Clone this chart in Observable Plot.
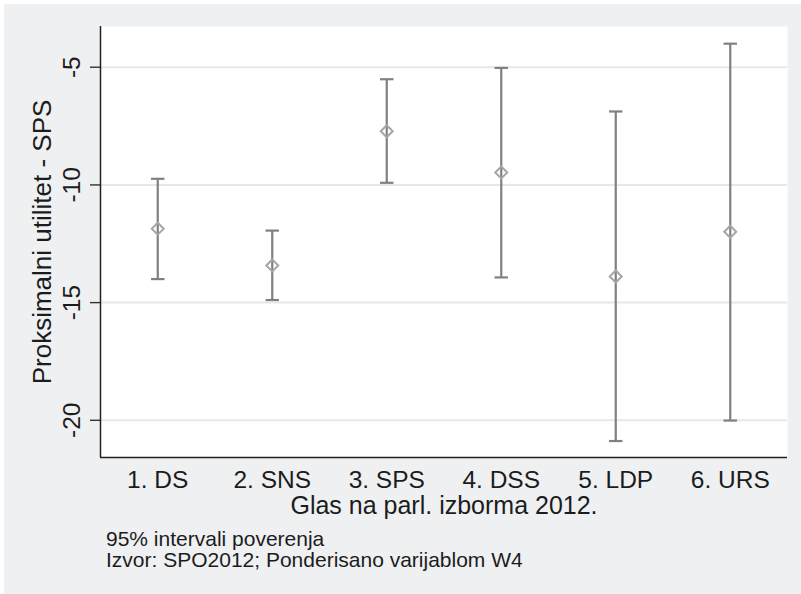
<!DOCTYPE html>
<html><head><meta charset="utf-8">
<script src="https://cdn.jsdelivr.net/npm/d3@7"></script>
<script src="https://cdn.jsdelivr.net/npm/@observablehq/plot@0.6"></script>
<style>
body{margin:0;background:#fff;}
#fig{position:absolute;left:4px;top:4px;width:797px;height:590px;background:#eff0f2;font-family:"Liberation Sans",Arial,Helvetica,sans-serif;color:#1c1c1c;}
#fig svg{display:block;}
#notes{margin-left:102px;margin-top:3px;font-size:21px;line-height:20.7px;color:#1c1c1c;}
</style></head><body><div id="fig"></div>
<script>
const parties = ["1. DS","2. SNS","3. SPS","4. DSS","5. LDP","6. URS"];
const means = [-11.86,-13.42,-7.72,-9.47,-13.89,-11.99];
const lower = [-14.00,-14.89,-9.91,-13.93,-20.88,-20.01];
const upper = [-9.74,-11.94,-5.51,-5.03,-6.88,-4.00];
const yTicks = [-20,-15,-10,-5];
const xDomain = [0.5,6.5];
const yDomain = [-21.58,-3.27];
const yTitle = "Proksimalni utilitet - SPS";
const xTitle = "Glas na parl. izborma 2012.";
const notes = ["95% intervali poverenja","Izvor: SPO2012; Ponderisano varijablom W4"];

const data = parties.map((p,i)=>({i:i+1, party:p, mean:means[i], lo:lower[i], hi:upper[i]}));
const xs = data.map(d=>d.i);

const capSymbol = {draw(ctx, size){const w=Math.sqrt(size/Math.PI); ctx.moveTo(-w,0); ctx.lineTo(w,0);}};

const chart = Plot.plot({
  width:797, height:522,
  marginLeft:96, marginTop:22, marginRight:14, marginBottom:69,
  style:{background:"transparent", fontFamily:'"Liberation Sans",Arial,Helvetica,sans-serif', color:"#1c1c1c", overflow:"visible"},
  x:{type:"linear", domain:xDomain},
  y:{domain:yDomain},
  marks:[
    Plot.frame({fill:"white", stroke:"none"}),
    Plot.gridY(yTicks, {stroke:"#e6e7ea", strokeWidth:2, strokeOpacity:1}),
    Plot.ruleX(data, {x:"i", y1:"lo", y2:"hi", stroke:"#7f8083", strokeWidth:2.2}),
    Plot.dot(data, {x:"i", y:"lo", symbol:capSymbol, r:6.7, stroke:"#7f8083", strokeWidth:2.2}),
    Plot.dot(data, {x:"i", y:"hi", symbol:capSymbol, r:6.7, stroke:"#7f8083", strokeWidth:2.2}),
    Plot.dot(data, {x:"i", y:"mean", symbol:"diamond2", r:5.4, stroke:"#a5a6a8", strokeWidth:2, fill:"none"}),
    Plot.axisY(yTicks, {tickSize:10, tickFormat:()=>"", label:null, stroke:"#333", strokeWidth:1.4}),
    Plot.text(yTicks, {y:d=>d, text:d=>String(d), frameAnchor:"left", dx:-21, rotate:-90, textAnchor:"middle", lineAnchor:"bottom", fontSize:24.5, fill:"#1c1c1c"}),
    Plot.axisX(xs, {tickSize:0, tickPadding:13, tickFormat:i=>parties[i-1], fontSize:24.5, label:null, fill:"#1c1c1c"}),
    Plot.ruleX([xDomain[0]], {stroke:"#222", strokeWidth:1.5}),
    Plot.ruleY([yDomain[0]], {stroke:"#222", strokeWidth:1.5}),
    Plot.text([yTitle], {text:d=>d, frameAnchor:"left", rotate:-90, dx:-68, textAnchor:"middle", lineAnchor:"top", fontSize:26, fill:"#1c1c1c"}),
    Plot.text([xTitle], {text:d=>d, frameAnchor:"bottom", dy:56, textAnchor:"middle", lineAnchor:"bottom", fontSize:25, fill:"#1c1c1c"})
  ]
});
const fig = document.getElementById("fig");
fig.appendChild(chart);
const nd = document.createElement("div");
nd.id = "notes";
nd.innerHTML = notes.map(n=>`<div>${n}</div>`).join("");
fig.appendChild(nd);
</script>
</body></html>
